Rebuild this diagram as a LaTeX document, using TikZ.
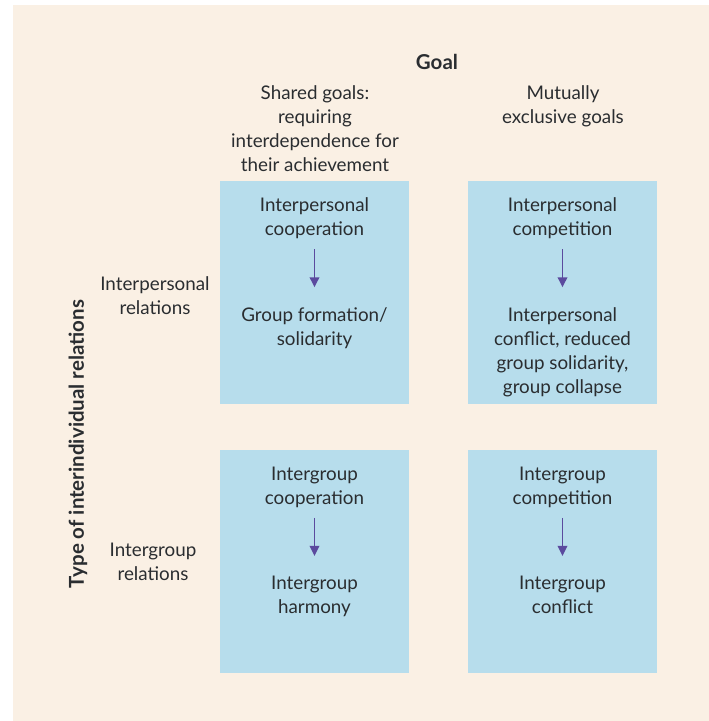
\documentclass[tikz,border=0pt]{standalone}
\usepackage{fontspec}
\setmainfont{Lato}
\usetikzlibrary{positioning,arrows.meta}
\definecolor{Panel}{HTML}{FAF0E4}
\definecolor{Cell}{HTML}{B7DDEC}
\definecolor{Ink}{HTML}{2A2D30}
\definecolor{Flow}{HTML}{5B4A9E}

\begin{document}
\begin{tikzpicture}[x=1pt,y=1pt,
  every node/.style={align=center,text=Ink,inner sep=0pt,font=\fontsize{18.8}{24}\selectfont},
  head/.style={font=\fontsize{20.5}{24}\selectfont\bfseries},
  cell/.style={fill=Cell,minimum width=189pt,minimum height=223pt},
  flow/.style={-{Triangle[width=9.5pt,length=10pt]},line width=1.8pt,Flow,shorten <=10pt,shorten >=20pt}]
\useasboundingbox (0,0) rectangle (709,721);
\fill[Panel] (13,0) rectangle (709,716);
% column and row headings
\node[head] (goal) at (437,659) {Goal};
\node[anchor=north] (shared) at (315,636) {Shared goals:\\requiring\\interdependence for\\their achievement};
\node[anchor=north] (excl) at (563,636) {Mutually\\exclusive goals};
\node (pers) at (155,425) {Interpersonal\\relations};
\node (grp) at (153,159) {Intergroup\\relations};
\node[head,rotate=90] (axis) at (78,277) {Type of interindividual relations};
% the four cells
\node[cell] (a) at (314.5,428.5) {};
\node[cell] (b) at (562.5,428.5) {};
\node[cell] (c) at (314.5,159.5) {};
\node[cell] (d) at (562.5,159.5) {};
\node[below=17pt of a.north] (a1) {Interpersonal\\cooperation};
\node[below=68pt of a1] (a2) {Group formation/\\solidarity};
\node[below=17pt of b.north] (b1) {Interpersonal\\competition};
\node[below=68pt of b1] (b2) {Interpersonal\\conflict, reduced\\group solidarity,\\group collapse};
\node[below=17pt of c.north] (c1) {Intergroup\\cooperation};
\node[below=68pt of c1] (c2) {Intergroup\\harmony};
\node[below=17pt of d.north] (d1) {Intergroup\\competition};
\node[below=68pt of d1] (d2) {Intergroup\\conflict};
\draw[flow] (a1) -- (a2);
\draw[flow] (b1) -- (b2);
\draw[flow] (c1) -- (c2);
\draw[flow] (d1) -- (d2);
\end{tikzpicture}
\end{document}
